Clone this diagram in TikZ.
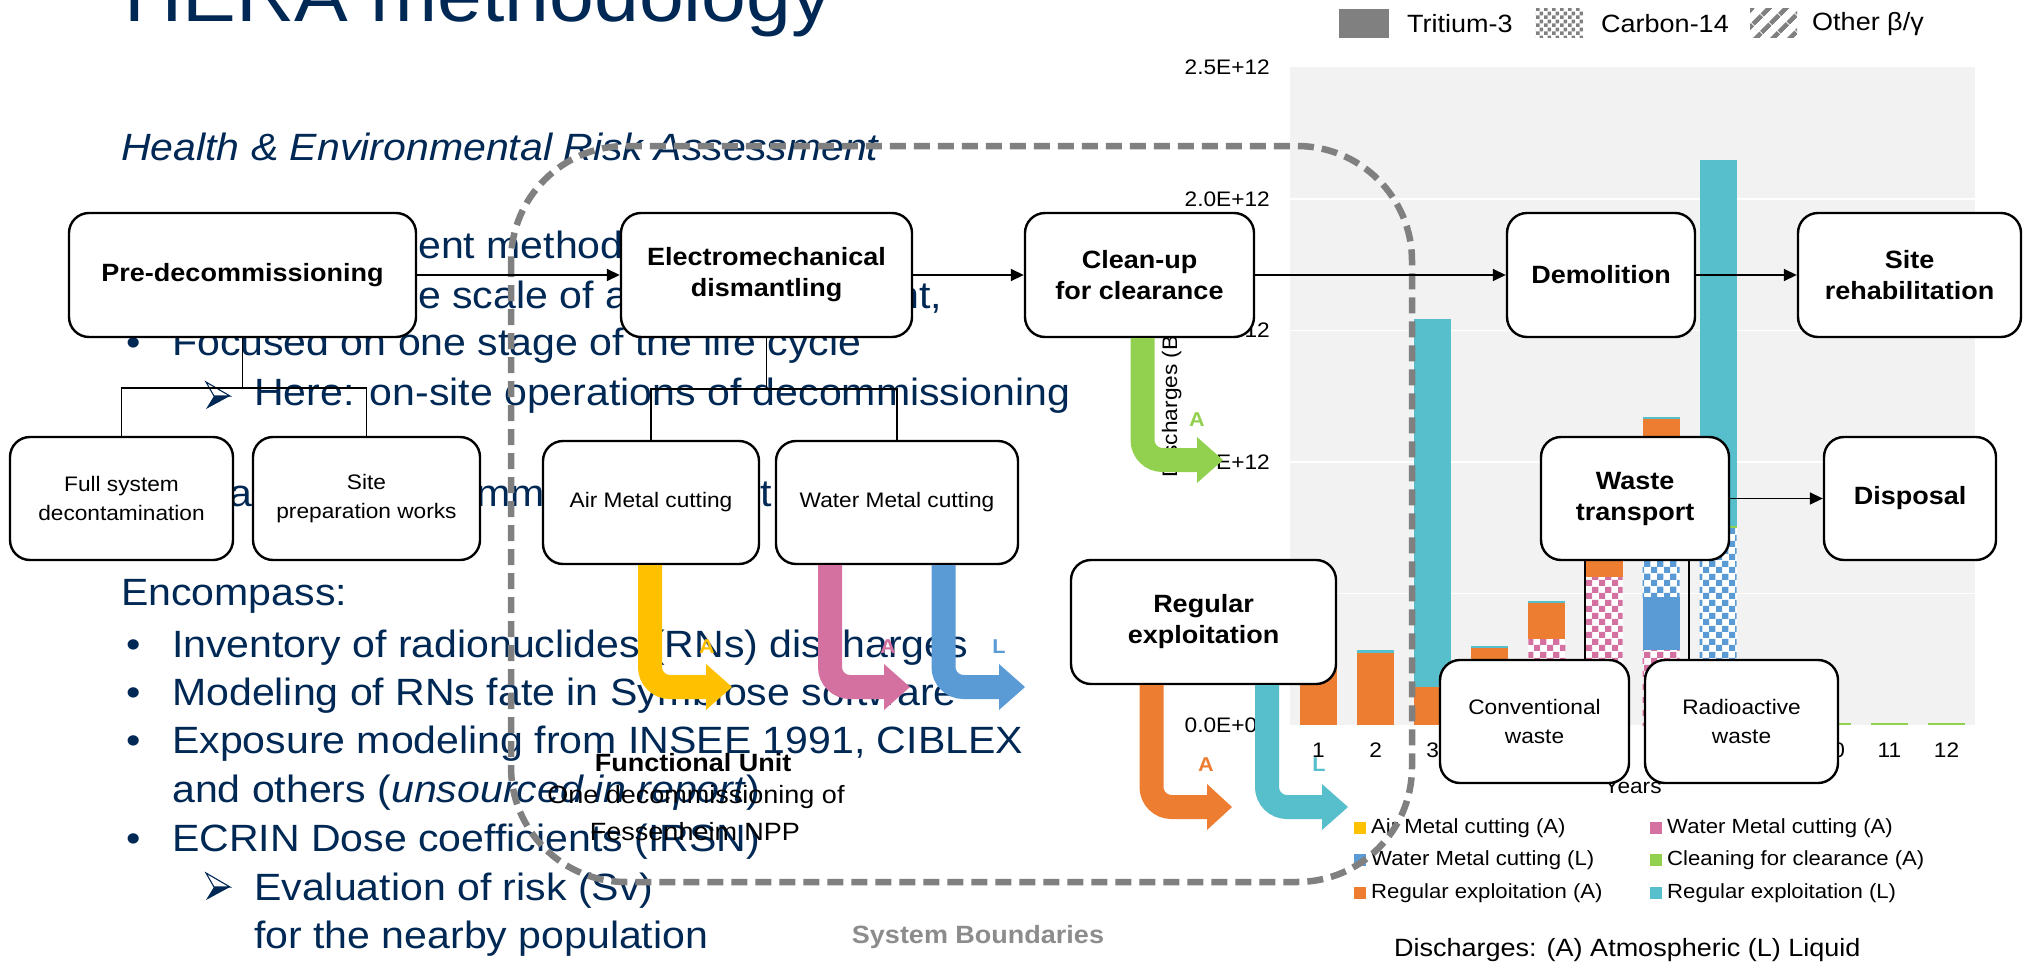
\documentclass[tikz,border=0pt]{standalone}
\usepackage{fontspec}
\setmainfont{Liberation Sans}[FakeStretch=1.08]
\usetikzlibrary{arrows.meta,patterns.meta}
\definecolor{navy}{RGB}{0,40,85}
\definecolor{orangec}{RGB}{237,125,49}
\definecolor{cyanc}{RGB}{87,190,203}
\definecolor{bluec}{RGB}{91,155,213}
\definecolor{yellowc}{RGB}{255,192,0}
\definecolor{pinkc}{RGB}{213,113,160}
\definecolor{greenc}{RGB}{146,208,80}
\definecolor{plotbg}{RGB}{242,242,242}
\definecolor{bgray}{RGB}{128,128,128}
\definecolor{sbgray}{RGB}{140,140,140}
\tikzdeclarepattern{
  name=chk, type=uncolored,
  bottom left={(0pt,0pt)}, top right={(13pt,13pt)},
  tile size={(13pt,13pt)},
  code={\fill (0pt,0pt) rectangle (6.5pt,6.5pt); \fill (6.5pt,6.5pt) rectangle (13pt,13pt);}
}
\tikzdeclarepattern{
  name=chks, type=uncolored,
  bottom left={(0pt,0pt)}, top right={(8pt,8pt)},
  tile size={(8pt,8pt)},
  code={\fill (0pt,0pt) rectangle (4pt,4pt); \fill (4pt,4pt) rectangle (8pt,8pt);}
}
\newcommand\barseg[4]{\fill[#1] (#2-18.5,#3) rectangle (#2+18.5,#4);}
\newcommand\barchk[4]{\fill[white] (#2-18.5,#3) rectangle (#2+18.5,#4);
  \fill[pattern=chk, pattern color=#1] (#2-18.5,#3) rectangle (#2+18.5,#4);}
\newcommand\wingarrow[2]{%
  \fill[navy] (#1,#2+13) -- (#1+24,#2) -- (#1+8,#2) -- cycle;
  \draw[navy, line width=1.1pt, line join=miter] (#1,#2-14) -- (#1+24,#2) -- (#1+8,#2) -- cycle;}
\begin{document}
\begin{tikzpicture}[x=1pt,y=-1pt,
  slide/.style={inner sep=0pt, anchor=base west, text=navy, font=\fontsize{38}{46}\selectfont},
  boxb/.style={draw, line width=2.4pt, fill=white, rounded corners=20pt, align=center,
    inner sep=0pt, font=\bfseries\fontsize{25}{31}\selectfont},
  boxr/.style={boxb, font=\fontsize{21}{28.5}\selectfont},
  conn/.style={line width=1.6pt},
  arr/.style={conn, -{Triangle[length=13pt,width=12pt]}},
  ticklab/.style={inner sep=0pt, anchor=east, font=\fontsize{21}{25}\selectfont},
  xlab/.style={inner sep=0pt, font=\fontsize{21}{25}\selectfont},
  leg/.style={inner sep=0pt, anchor=west, font=\fontsize{20.5}{25}\selectfont},
  fat/.style={line width=24pt, rounded corners=20pt},
  arrlab/.style={inner sep=0pt, font=\bfseries\fontsize{20}{24}\selectfont},
  sysbound/.style={draw=bgray, line width=6.5pt, dash pattern=on 16pt off 8pt, rounded corners=115pt},
  fu/.style={inner sep=0pt, font=\fontsize{25}{30}\selectfont}
]
\useasboundingbox (0,0) rectangle (2033,963);
\fill[white] (0,0) rectangle (2033,963);
\clip (0,0) rectangle (2033,963);

% ---------------- slide text ----------------
\node[slide, font=\fontsize{74.6}{80}\selectfont] (title) at (124,21.5) {HERA methodology};
\node[slide, font=\itshape\fontsize{38}{46}\selectfont] (hera) at (121,160) {Health \& Environmental Risk Assessment};
\node[slide] (l1) at (418,258) {ent method};
\node[slide] (l2) at (418,308) {e scale of a};
\node[slide, anchor=base east] (l2b) at (942,308) {nt,};
\node[slide] (b3) at (126,355) {•};
\node[slide] (l3) at (172,355) {Focused on one stage of the life cycle};
\wingarrow{206}{396}
\node[slide] (l4) at (254,405) {Here: on-site operations of decommissioning};
\node[slide] (l5a) at (229,506) {at};
\node[slide] (l5b) at (476,506) {mm};
\node[slide] (l5c) at (760,506) {t};
\node[slide] (enc) at (121,605) {Encompass:};
\node[slide] (b6) at (126,657) {•};
\node[slide] (l6) at (172,657) {Inventory of radionuclides (RNs) discharges};
\node[slide] (b7) at (126,705) {•};
\node[slide] (l7) at (172,705) {Modeling of RNs fate in Symbiose software};
\node[slide] (b8) at (126,753) {•};
\node[slide] (l8) at (172,753) {Exposure modeling from INSEE 1991, CIBLEX};
\node[slide] (l9) at (172,802) {and others (\textit{unsourced in report})};
\node[slide] (b10) at (126,851) {•};
\node[slide] (l10) at (172,851) {ECRIN Dose coefficients (IRSN)};
\wingarrow{206}{887}
\node[slide] (l11) at (254,900) {Evaluation of risk (Sv)};
\node[slide] (l12) at (254,948) {for the nearby population};

% ---------------- chart ----------------
\fill[plotbg] (1290,67.5) rectangle (1975,725);
\foreach \yy in {199,330.5,462,593.5} \draw[white, line width=1.5pt] (1290,\yy) -- (1975,\yy);
\node[ticklab] (t1) at (1270,67.5) {2.5E+12};
\node[ticklab] (t2) at (1270,199) {2.0E+12};
\node[ticklab] (t3) at (1270,330.5) {1.5E+12};
\node[ticklab] (t4) at (1270,462) {1.0E+12};
\node[ticklab] (t5) at (1270,593.5) {5.0E+11};
\node[ticklab] (t6) at (1270,725) {0.0E+00};
\node[xlab, rotate=90, anchor=base west] (ytitle) at (1177,478) {Discharges (Bq)};
% bars
\barseg{orangec}{1318.5}{650}{725}
\barseg{cyanc}{1375.6}{650}{653}
\barseg{orangec}{1375.6}{653}{725}
\barseg{cyanc}{1432.7}{319}{687}
\barseg{orangec}{1432.7}{687}{725}
\barseg{cyanc}{1489.8}{646}{648}
\barseg{orangec}{1489.8}{648}{668}
\barchk{pinkc}{1489.8}{668}{725}
\barseg{cyanc}{1546.9}{601}{603}
\barseg{orangec}{1546.9}{603}{639}
\barchk{pinkc}{1546.9}{639}{725}
\barseg{orangec}{1604.0}{540}{577}
\barchk{pinkc}{1604.0}{577}{725}
\barseg{cyanc}{1661.1}{417}{419}
\barseg{orangec}{1661.1}{419}{480}
\barchk{pinkc}{1661.1}{480}{545}
\barchk{bluec}{1661.1}{545}{597}
\barseg{bluec}{1661.1}{597}{650}
\barchk{pinkc}{1661.1}{650}{725}
\barseg{cyanc}{1718.1}{160}{527}
\barseg{greenc}{1718.1}{526}{528}
\barchk{bluec}{1718.1}{528}{725}
\barseg{greenc}{1832.3}{722.5}{725}
\barseg{greenc}{1889.4}{722.5}{725}
\barseg{greenc}{1946.5}{722.5}{725}
% x labels
\foreach \i/\cx in {1/1318.5,2/1375.6,3/1432.7,4/1489.8,5/1546.9,6/1604.0,7/1661.1,8/1718.1,9/1775.2,10/1832.3,11/1889.4,12/1946.5}
  \node[xlab] (x\i) at (\cx,750) {\i};
\node[xlab, anchor=base] (years) at (1633,793) {Years};
% top legend
\fill[bgray] (1339,9) rectangle (1389,38);
\node[leg, font=\fontsize{25}{30}\selectfont] (lt) at (1407,24) {Tritium-3};
\fill[white] (1535,9) rectangle (1583,38);
\fill[pattern=chks, pattern color=bgray] (1535,9) rectangle (1583,38);
\node[leg, font=\fontsize{25}{30}\selectfont] (lc) at (1601,24) {Carbon-14};
\fill[pattern={Lines[angle=45,distance=13pt,line width=5pt]}, pattern color=bgray] (1750,9) rectangle (1797,38);
\node[leg, font=\fontsize{25}{30}\selectfont] (lo) at (1812,24) {Other β/γ};
% series legend
\fill[yellowc] (1354,822) rectangle (1366,834);
\node[leg] (g1) at (1371,828) {Air Metal cutting (A)};
\fill[bluec] (1354,854) rectangle (1366,866);
\node[leg] (g2) at (1371,860) {Water Metal cutting (L)};
\fill[orangec] (1354,887) rectangle (1366,899);
\node[leg] (g3) at (1371,893) {Regular exploitation (A)};
\fill[pinkc] (1650,822) rectangle (1662,834);
\node[leg] (g4) at (1667,828) {Water Metal cutting (A)};
\fill[greenc] (1650,854) rectangle (1662,866);
\node[leg] (g5) at (1667,860) {Cleaning for clearance (A)};
\fill[cyanc] (1650,887) rectangle (1662,899);
\node[leg] (g6) at (1667,893) {Regular exploitation (L)};
\node[leg, font=\fontsize{25}{30}\selectfont] (disc) at (1394,950) {Discharges: (A) Atmospheric (L) Liquid};

% ---------------- functional unit / boundary ----------------
\node[fu, font=\bfseries\fontsize{25}{30}\selectfont] (fu1) at (693,763) {Functional Unit};
\node[fu] (fu2) at (696,797) {One decommissioning of};
\node[fu] (fu3) at (695,832) {Fessenheim NPP};
\node[fu, text=sbgray, font=\bfseries\fontsize{25}{30}\selectfont] (sb) at (978,937) {System Boundaries};
\draw[sysbound] (511,146) rectangle (1412,882);

% ---------------- boxes ----------------
\node[boxb, minimum width=347pt, minimum height=124pt] (pre) at (242.5,275) {Pre-decommissioning};
\node[boxb, minimum width=291pt, minimum height=124pt] (elec) at (766.5,275) {Electromechanical\\dismantling};
\node[boxb, minimum width=229pt, minimum height=124pt] (clean) at (1139.5,275) {Clean-up\\for clearance};
\node[boxb, minimum width=188pt, minimum height=124pt] (demo) at (1601,275) {Demolition};
\node[boxb, minimum width=223pt, minimum height=124pt] (rehab) at (1909.5,275) {Site\\rehabilitation};
\node[boxr, minimum width=223pt, minimum height=123pt] (fullsys) at (121.5,498.5) {Full system\\decontamination};
\node[boxr, minimum width=227pt, minimum height=123pt] (siteprep) at (366.5,498.5) {Site\\preparation works};
\node[boxr, minimum width=216pt, minimum height=123pt] (air) at (651,502.5) {Air Metal cutting};
\node[boxr, minimum width=242pt, minimum height=123pt] (water) at (897,502.5) {Water Metal cutting};
\node[boxb, minimum width=265pt, minimum height=124pt] (regexp) at (1203.5,622) {Regular\\exploitation};
\node[boxb, minimum width=188pt, minimum height=123pt] (waste) at (1635,498.5) {Waste\\transport};
\node[boxb, minimum width=172pt, minimum height=123pt] (disposal) at (1910,498.5) {Disposal};
\node[boxr, minimum width=189pt, minimum height=123pt] (conv) at (1534.5,721.5) {Conventional\\waste};
\node[boxr, minimum width=193pt, minimum height=123pt] (radio) at (1741.5,721.5) {Radioactive\\waste};

% ---------------- connectors ----------------
\draw[arr] (pre.east) -- (elec.west);
\draw[arr] (elec.east) -- (clean.west);
\draw[arr] (clean.east) -- (demo.west);
\draw[arr] (demo.east) -- (rehab.west);
\draw[arr] (waste.east) -- (disposal.west);
\draw[conn] (pre.south) -- ++(0,50) -| (fullsys.north);
\draw[conn] (pre.south) ++(0,50) -| (siteprep.north);
\draw[conn] (elec.south) -- ++(0,51) -| (air.north);
\draw[conn] (elec.south) ++(0,51) -| (water.north);
\draw[conn] ([xshift=-50pt]waste.south) -- ([xshift=50.5pt]conv.north);
\draw[conn] ([xshift=54pt]waste.south) -- ([xshift=-52.5pt]radio.north);

% ---------------- fat discharge arrows ----------------
\coordinate (hy) at (707,687);
\draw[fat, yellowc] ([xshift=-1pt]air.south) |- (hy);
\fill[yellowc] (706,664) -- (732,687) -- (706,710) -- cycle;
\node[arrlab, text=yellowc] (ay) at (707,647) {A};
\coordinate (hp) at (885,687);
\draw[fat, pinkc] ([xshift=-67pt]water.south) |- (hp);
\fill[pinkc] (884,664) -- (910,687) -- (884,710) -- cycle;
\node[arrlab, text=pinkc] (ap) at (888,647) {A};
\coordinate (hb) at (1000,687);
\draw[fat, bluec] ([xshift=46.5pt]water.south) |- (hb);
\fill[bluec] (999,664) -- (1025,687) -- (999,710) -- cycle;
\node[arrlab, text=bluec] (ab) at (999,647) {L};
\coordinate (hg) at (1198,460);
\draw[fat, greenc] ([xshift=3pt]clean.south) |- (hg);
\fill[greenc] (1197,437) -- (1223,460) -- (1197,483) -- cycle;
\node[arrlab, text=greenc] (ag) at (1197,420) {A};
\coordinate (ho) at (1208,807);
\draw[fat, orangec] ([xshift=-52pt]regexp.south) |- (ho);
\fill[orangec] (1207,784) -- (1232,807) -- (1207,830) -- cycle;
\node[arrlab, text=orangec] (ao) at (1206,765) {A};
\coordinate (hc) at (1323,807);
\draw[fat, cyanc] ([xshift=63.5pt]regexp.south) |- (hc);
\fill[cyanc] (1322,784) -- (1348,807) -- (1322,830) -- cycle;
\node[arrlab, text=cyanc] (ac) at (1319,765) {L};
\end{tikzpicture}
\end{document}
